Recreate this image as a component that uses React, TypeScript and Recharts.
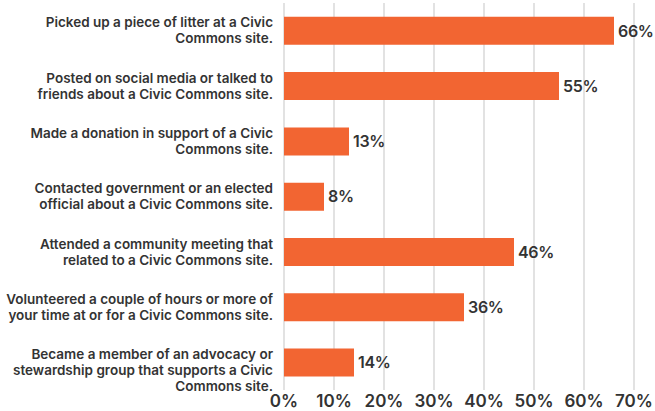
import { BarChart, Bar, XAxis, YAxis, CartesianGrid, LabelList } from "recharts";

const activities = [
  "Picked up a piece of litter at a Civic|Commons site.",
  "Posted on social media or talked to|friends about a Civic Commons site.",
  "Made a donation in support of a Civic|Commons site.",
  "Contacted government or an elected|official about a Civic Commons site.",
  "Attended a community meeting that|related to a Civic Commons site.",
  "Volunteered a couple of hours or more of|your time at or for a Civic Commons site.",
  "Became a member of an advocacy or|stewardship group that supports a Civic|Commons site.",
];
const shares = [66, 55, 13, 8, 46, 36, 14];
const xTicks = [0, 10, 20, 30, 40, 50, 60, 70];

const data = activities.map((a, i) => ({ activity: a, share: shares[i] }));

const FONT = "Inter, 'Liberation Sans', sans-serif";

function ActivityTick(props: any) {
  const { x, y, payload } = props;
  const lines: string[] = String(payload.value).split("|");
  const start = -(Math.min(lines.length, 2) - 1) * 8;
  return (
    <text
      x={x - 3}
      y={y + start}
      textAnchor="end"
      fill="#333333"
      fontFamily={FONT}
      fontWeight={600}
      fontSize={13.5}
    >
      {lines.map((l, i) => (
        <tspan key={i} x={x - 3} dy={i === 0 ? "0.35em" : 16}>
          {l}
        </tspan>
      ))}
    </text>
  );
}

export default function App() {
  return (
    <div style={{ position: "absolute", left: 0, top: 0 }}>
      <BarChart
        width={655}
        height={411}
        data={data}
        layout="vertical"
        margin={{ top: 3, right: 21, bottom: 0, left: 0 }}
        barCategoryGap="25%"
      >
        <CartesianGrid horizontal={false} stroke="#d9d9d9" strokeWidth={1.5} />
        <XAxis
          type="number"
          domain={[0, 70]}
          ticks={xTicks}
          tickFormatter={(v: number) => `${v}%`}
          axisLine={false}
          tickLine={false}
          tickSize={3}
          tickMargin={2}
          height={21}
          interval={0}
          tick={{ fill: "#333333", fontFamily: FONT, fontWeight: 600, fontSize: 17 }}
        />
        <YAxis
          type="category"
          dataKey="activity"
          width={284}
          axisLine={false}
          tickLine={false}
          interval={0}
          tick={<ActivityTick />}
        />
        <Bar dataKey="share" fill="#F26532" isAnimationActive={false}>
          <LabelList
            dataKey="share"
            position="right"
            offset={4}
            formatter={(v: any) => `${v}%`}
            fill="#333333"
            fontFamily={FONT}
            fontWeight={600}
            fontSize={16}
            letterSpacing={-0.3}
          />
        </Bar>
      </BarChart>
    </div>
  );
}
